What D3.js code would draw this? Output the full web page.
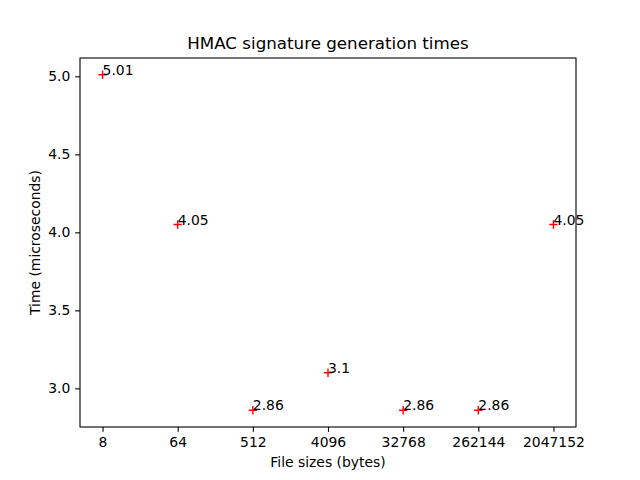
<!DOCTYPE html>
<html>
<head>
<meta charset="utf-8">
<script src="https://cdn.jsdelivr.net/npm/d3@7"></script>
<style>
  body { margin: 0; background: #fff; }
  svg text { font-family: "DejaVu Sans", sans-serif; fill: #000; }
</style>
</head>
<body>
<div id="chart"></div>
<script>
// ---- Data ----
var fileSizes = ['8', '64', '512', '4096', '32768', '262144', '2047152'];
var times = [5.01, 4.05, 2.86, 3.1, 2.86, 2.86, 4.05];
var yTicks = [3.0, 3.5, 4.0, 4.5, 5.0];

var W = 640, H = 480;
var margin = { left: 80, right: 64, top: 58, bottom: 53 };
var plotW = W - margin.left - margin.right;
var plotH = H - margin.top - margin.bottom;

var svg = d3.select('#chart').append('svg')
  .attr('width', W).attr('height', H);

var g = svg.append('g')
  .attr('transform', 'translate(' + margin.left + ',' + margin.top + ')');

// matplotlib-like 5% margins
var x = d3.scaleLinear().domain([-0.3, fileSizes.length - 1 + 0.3]).range([0, plotW]);
var yMin = d3.min(times), yMax = d3.max(times), pad = (yMax - yMin) * 0.05;
var y = d3.scaleLinear().domain([yMin - pad, yMax + pad]).range([plotH, 0]);

var tickLen = 4.86;

// x axis
var xAxis = d3.axisBottom(x)
  .tickValues(d3.range(fileSizes.length))
  .tickFormat(function (d) { return fileSizes[d]; })
  .tickSize(tickLen).tickPadding(4.9);
g.append('g').attr('transform', 'translate(0,' + plotH + ')').call(xAxis)
  .call(function (a) {
    a.select('.domain').remove();
    a.selectAll('text').style('font-size', '13.9px').style('font-family', '"DejaVu Sans"');
    a.selectAll('line').attr('stroke', '#000').attr('stroke-width', 1.1);
  });

// y axis
var yAxis = d3.axisLeft(y)
  .tickValues(yTicks)
  .tickFormat(d3.format('.1f'))
  .tickSize(tickLen).tickPadding(4.9);
g.append('g').call(yAxis)
  .call(function (a) {
    a.select('.domain').remove();
    a.selectAll('text').style('font-size', '13.9px').style('font-family', '"DejaVu Sans"');
    a.selectAll('line').attr('stroke', '#000').attr('stroke-width', 1.1);
  });

// frame
g.append('rect')
  .attr('x', 0).attr('y', 0).attr('width', plotW).attr('height', plotH)
  .attr('fill', 'none').attr('stroke', '#000').attr('stroke-width', 1.1);

// markers
var m = 4.2;
var pts = g.append('g').selectAll('g.pt')
  .data(times).enter().append('g')
  .attr('class', 'pt')
  .attr('transform', function (d, i) { return 'translate(' + x(i) + ',' + y(d) + ')'; });

pts.append('path')
  .attr('d', 'M' + (-m) + ',0H' + m + 'M0,' + (-m) + 'V' + m)
  .attr('stroke', 'red').attr('stroke-width', 1.4).attr('fill', 'none');

pts.append('text')
  .attr('x', 0).attr('y', 0)
  .style('font-size', '13.9px')
  .text(function (d) { return String(d); });

// title and labels
svg.append('text')
  .attr('x', margin.left + plotW / 2).attr('y', margin.top - 9)
  .attr('text-anchor', 'middle').style('font-size', '16.7px')
  .text('HMAC signature generation times');

svg.append('text')
  .attr('x', margin.left + plotW / 2).attr('y', 467)
  .attr('text-anchor', 'middle').style('font-size', '13.9px')
  .text('File sizes (bytes)');

svg.append('text')
  .attr('transform', 'translate(40,' + (margin.top + plotH / 2) + ') rotate(-90)')
  .attr('text-anchor', 'middle').style('font-size', '13.9px')
  .text('Time (microseconds)');
</script>
</body>
</html>
